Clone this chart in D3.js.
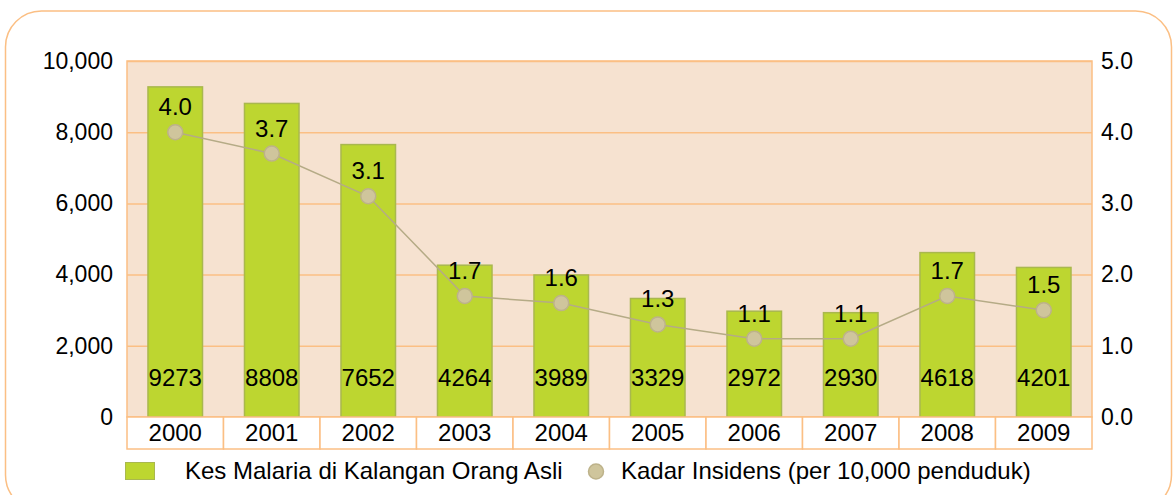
<!DOCTYPE html>
<html>
<head>
<meta charset="utf-8">
<script src="https://cdn.jsdelivr.net/npm/d3@7"></script>
<style>
  body { margin: 0; background: #fff; }
  svg { display: block; font-family: "Liberation Sans", Arial, sans-serif; }
</style>
</head>
<body>
<script>
// data
var years = ["2000", "2001", "2002", "2003", "2004", "2005", "2006", "2007", "2008", "2009"];
var cases = [9273, 8808, 7652, 4264, 3989, 3329, 2972, 2930, 4618, 4201];
var rates = [4.0, 3.7, 3.1, 1.7, 1.6, 1.3, 1.1, 1.1, 1.7, 1.5];
var leftTicks = [0, 2000, 4000, 6000, 8000, 10000];
var rightTicks = [0, 1, 2, 3, 4, 5];
var legendLabels = ["Kes Malaria di Kalangan Orang Asli", "Kadar Insidens (per 10,000 penduduk)"];

var orange = "#fbbf84",
    plotBg = "#f6e2d0",
    barFill = "#bdd630",
    barStroke = "#a9b84e",
    dotFill = "#cfc59c",
    dotStroke = "#bdb28a",
    lineColor = "#b5ab86";

var margin = {top: 61, right: 83, bottom: 78, left: 127},
    width = 1175 - margin.left - margin.right,
    height = 495 - margin.top - margin.bottom;

var svg = d3.select("body").append("svg")
    .attr("width", 1175)
    .attr("height", 495);

// rounded frame
svg.append("rect")
    .attr("x", 5.5).attr("y", 11)
    .attr("width", 1166).attr("height", 500)
    .attr("rx", 36).attr("ry", 36)
    .attr("fill", "none")
    .attr("stroke", orange)
    .attr("stroke-width", 1.5);

var g = svg.append("g")
    .attr("transform", "translate(" + margin.left + "," + margin.top + ")");

var x = d3.scaleBand().domain(years).range([0, width]);
var y = d3.scaleLinear().domain([0, 10000]).range([height, 0]);
var y2 = d3.scaleLinear().domain([0, 5]).range([height, 0]);

g.append("rect")
    .attr("width", width)
    .attr("height", height)
    .attr("fill", plotBg)
    .attr("stroke", orange)
    .attr("stroke-width", 1.5);

// gridlines
g.append("g")
    .call(d3.axisLeft(y).tickValues(leftTicks).tickSize(-width).tickFormat(""))
    .call(function(s) { s.select(".domain").remove(); })
    .selectAll("line")
    .attr("stroke", orange)
    .attr("stroke-width", 1.5);

// left axis
var la = g.append("g")
    .call(d3.axisLeft(y).tickValues(leftTicks).tickSize(0).tickPadding(14).tickFormat(d3.format(",")));
la.select(".domain").remove();
la.selectAll("text").attr("font-size", 23).attr("fill", "#000").attr("font-family", null);

// right axis
var ra = g.append("g")
    .attr("transform", "translate(" + width + ",0)")
    .call(d3.axisRight(y2).tickValues(rightTicks).tickSize(0).tickPadding(9).tickFormat(d3.format(".1f")));
ra.select(".domain").remove();
ra.selectAll("text").attr("font-size", 23).attr("fill", "#000").attr("font-family", null);

// bars
var bw = x.bandwidth() * 0.565;
g.selectAll(".bar")
    .data(cases)
  .enter().append("rect")
    .attr("class", "bar")
    .attr("x", function(d, i) { return x(years[i]) + (x.bandwidth() - bw) / 2; })
    .attr("y", function(d) { return y(d); })
    .attr("width", bw)
    .attr("height", function(d) { return height - y(d); })
    .attr("fill", barFill)
    .attr("stroke", barStroke)
    .attr("stroke-width", 1.5);

g.selectAll(".barlabel")
    .data(cases)
  .enter().append("text")
    .attr("class", "barlabel")
    .attr("x", function(d, i) { return x(years[i]) + x.bandwidth() / 2; })
    .attr("y", height - 31)
    .attr("text-anchor", "middle")
    .attr("font-size", 24)
    .text(function(d) { return d; });

// incidence line
var line = d3.line()
    .x(function(d, i) { return x(years[i]) + x.bandwidth() / 2; })
    .y(function(d) { return y2(d); });

g.append("path")
    .datum(rates)
    .attr("d", line)
    .attr("fill", "none")
    .attr("stroke", lineColor)
    .attr("stroke-width", 1.5);

g.selectAll(".dot")
    .data(rates)
  .enter().append("circle")
    .attr("class", "dot")
    .attr("cx", function(d, i) { return x(years[i]) + x.bandwidth() / 2; })
    .attr("cy", function(d) { return y2(d); })
    .attr("r", 7.5)
    .attr("fill", dotFill)
    .attr("stroke", dotStroke)
    .attr("stroke-width", 1.5);

g.selectAll(".ratelabel")
    .data(rates)
  .enter().append("text")
    .attr("class", "ratelabel")
    .attr("x", function(d, i) { return x(years[i]) + x.bandwidth() / 2; })
    .attr("y", function(d) { return y2(d) - 17; })
    .attr("text-anchor", "middle")
    .attr("font-size", 24)
    .text(function(d) { return d3.format(".1f")(d); });

// category table under the plot
var cells = g.append("g").attr("transform", "translate(0," + height + ")");
cells.selectAll("rect")
    .data(years)
  .enter().append("rect")
    .attr("x", function(d) { return x(d); })
    .attr("width", x.bandwidth())
    .attr("height", 32)
    .attr("fill", "#fff")
    .attr("stroke", orange)
    .attr("stroke-width", 1.5);

var xa = cells.append("g")
    .call(d3.axisBottom(x).tickSize(0).tickPadding(0));
xa.select(".domain").remove();
xa.selectAll("text")
    .attr("y", 16)
    .attr("dy", "0.35em")
    .attr("font-size", 24)
    .attr("fill", "#000")
    .attr("font-family", null);

// legend
var lg = svg.append("g").attr("transform", "translate(0,462)");
lg.append("rect")
    .attr("x", 125.5).attr("y", 0.5)
    .attr("width", 29).attr("height", 17)
    .attr("fill", barFill)
    .attr("stroke", barStroke);
lg.append("text")
    .attr("x", 185).attr("y", 9)
    .attr("dy", "0.35em")
    .attr("font-size", 24)
    .text(legendLabels[0]);
lg.append("circle")
    .attr("cx", 596).attr("cy", 9.5)
    .attr("r", 7.5)
    .attr("fill", dotFill)
    .attr("stroke", dotStroke)
    .attr("stroke-width", 1.5);
lg.append("text")
    .attr("x", 621).attr("y", 9)
    .attr("dy", "0.35em")
    .attr("font-size", 24)
    .text(legendLabels[1]);
</script>
</body>
</html>
